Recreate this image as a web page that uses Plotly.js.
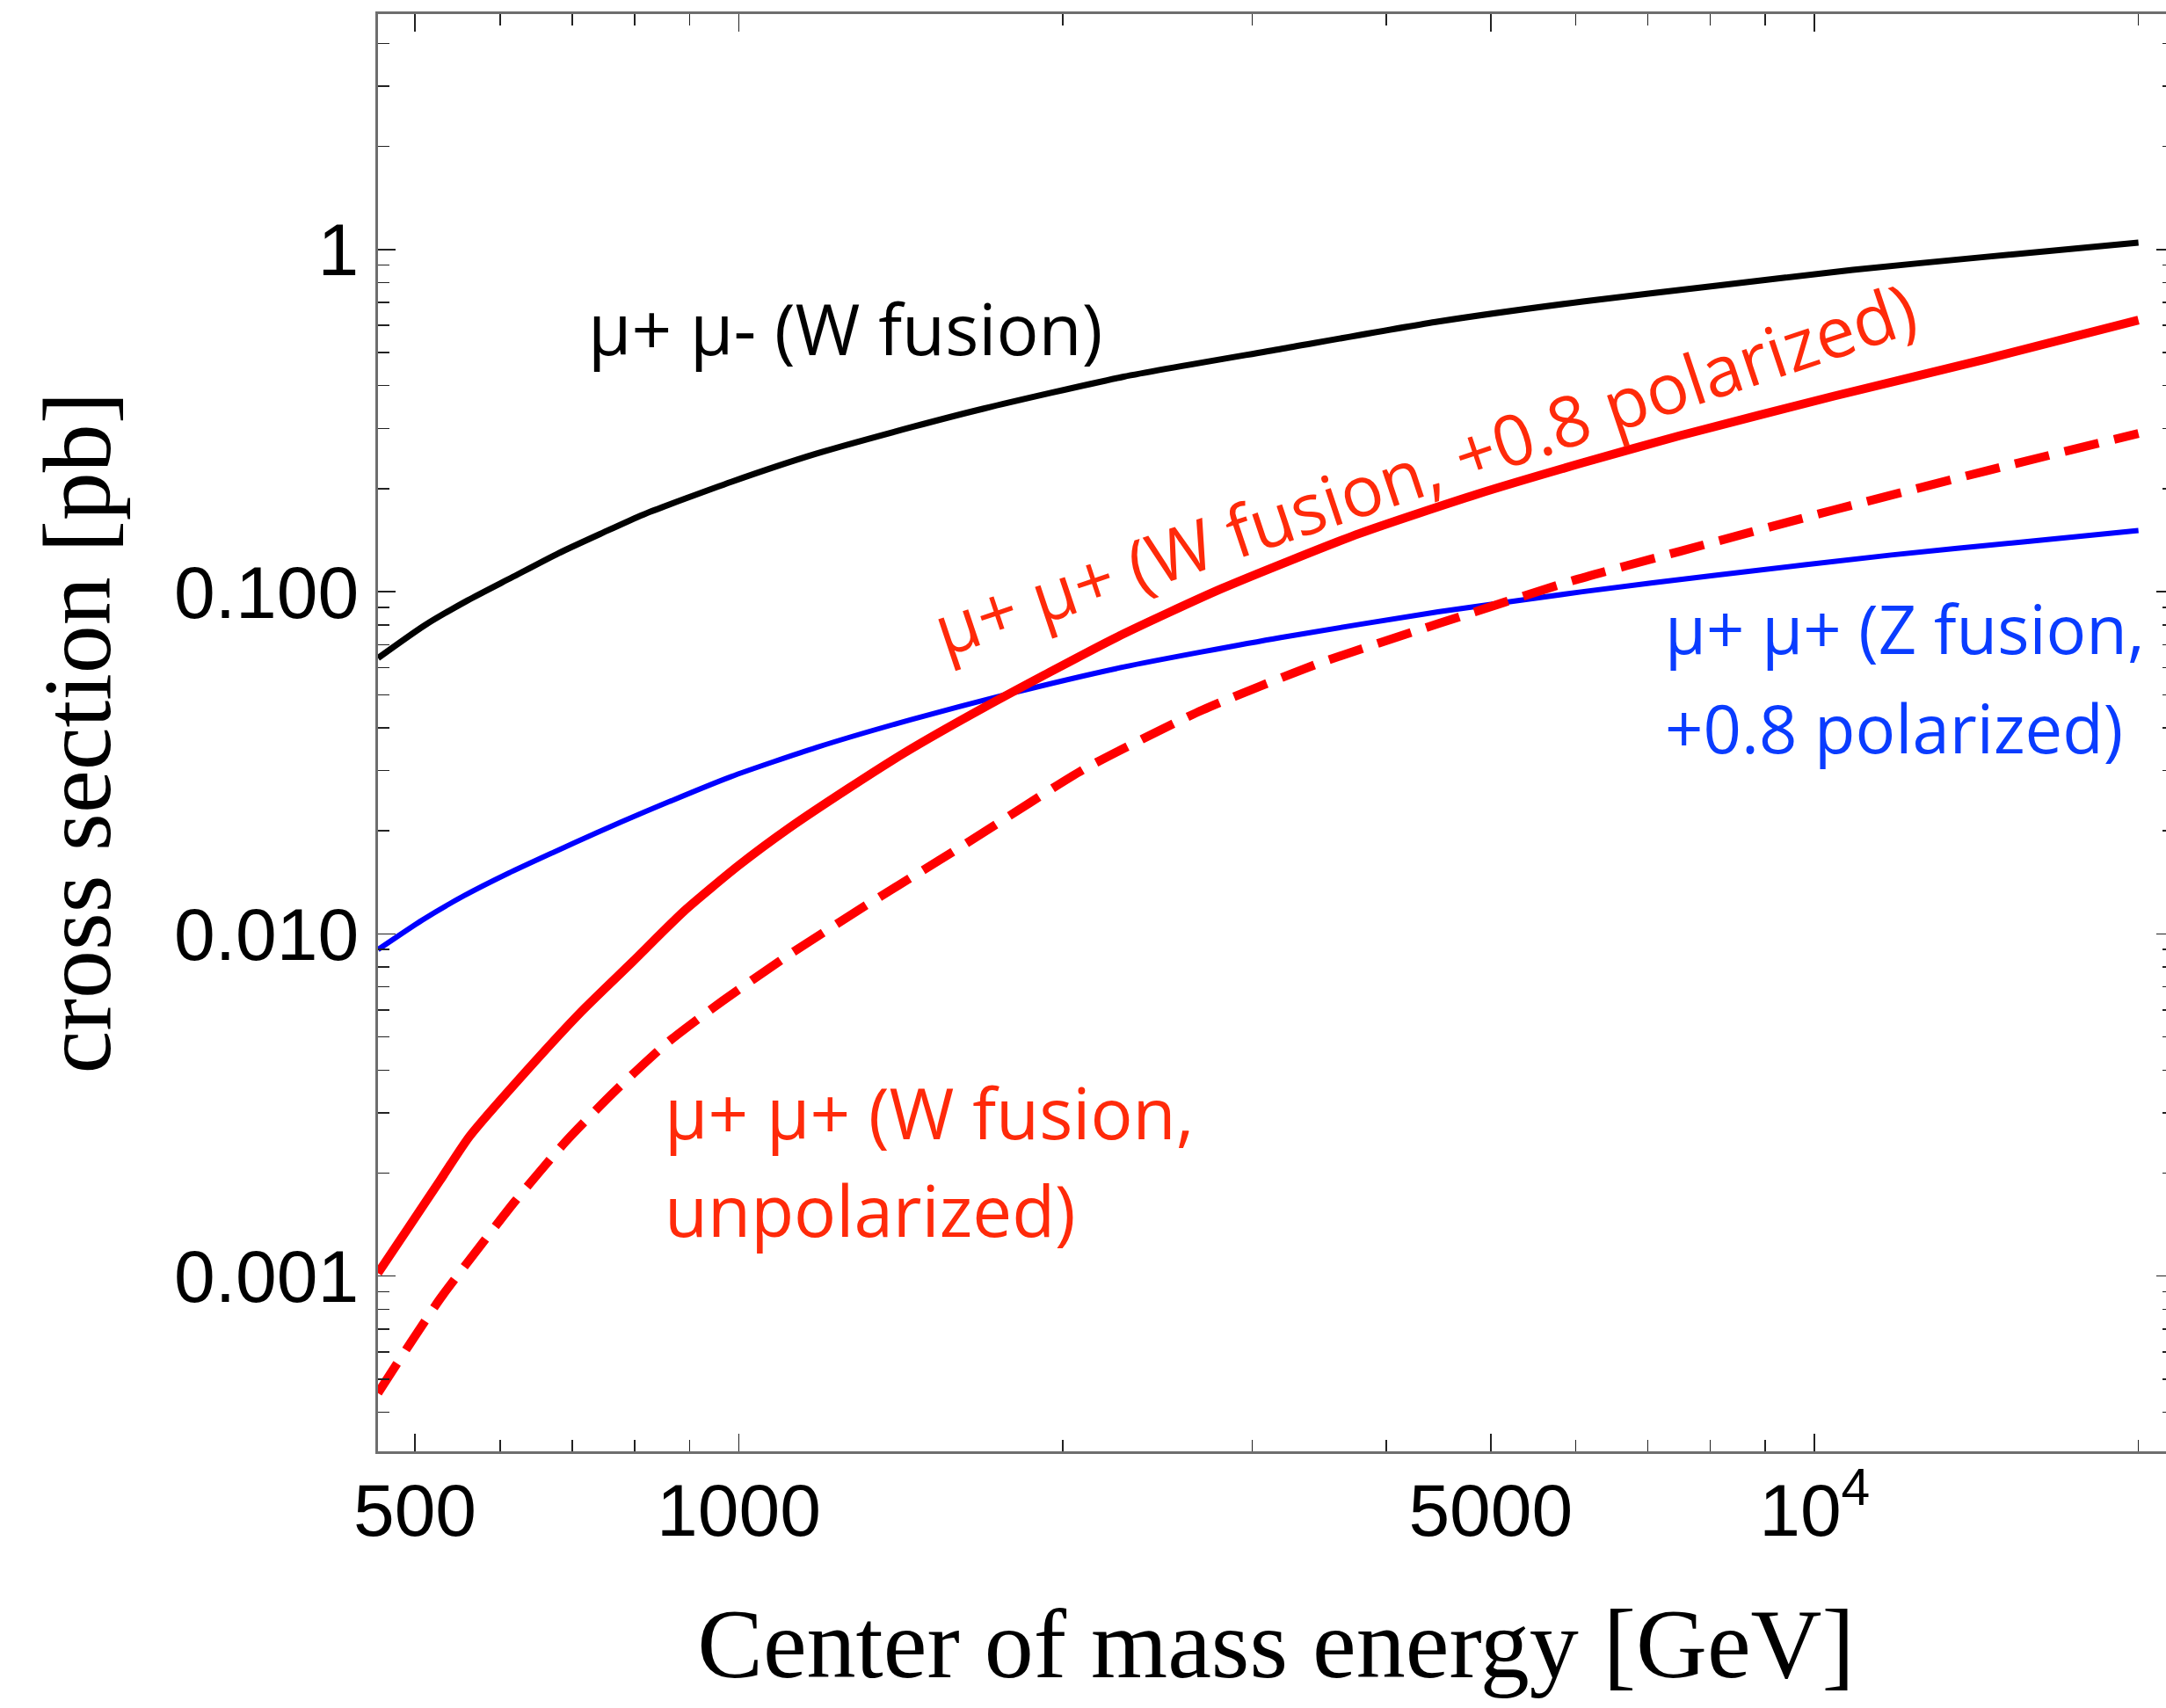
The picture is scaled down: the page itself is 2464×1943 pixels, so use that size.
<!DOCTYPE html>
<html>
<head>
<meta charset="utf-8">
<script src="https://cdn.plot.ly/plotly-3.0.1.min.js"></script>
<style>
html,body{margin:0;padding:0;overflow:hidden;background:#fff;}
#chart{width:2480px;height:1943px;}
</style>
</head>
<body>
<div id="chart"></div>
<script>
// Data (E in GeV, cross section in pb)
const energyWW_mumu = [462, 510, 560, 615, 680, 745, 815, 985, 1180, 1450, 1690, 2280, 3190, 4470, 6090, 8140, 10850, 14450, 20000];
const sigmaWW_mumu  = [0.0640, 0.0796, 0.0944, 0.110, 0.1296, 0.148, 0.168, 0.2096, 0.253, 0.303, 0.343, 0.425, 0.512, 0.616, 0.705, 0.785, 0.872, 0.952, 1.047];

const energyZZ_pol = [462, 508, 555, 611, 673, 738, 817, 983, 1182, 1446, 1774, 2281, 3190, 4467, 6085, 8140, 11780, 15700, 20000];
const sigmaZZ_pol  = [0.00900, 0.01098, 0.01291, 0.01505, 0.01733, 0.01977, 0.0227, 0.0288, 0.0351, 0.0423, 0.0501, 0.0603, 0.0735, 0.0873, 0.1000, 0.112, 0.128, 0.140, 0.151];

const energyWW_pol = [462, 493, 528, 562, 635, 714, 797, 889, 1000, 1114, 1264, 1423, 1693, 2243, 2813, 3776, 4861, 6085, 7500, 10410, 14450, 20000];
const sigmaWW_pol  = [0.00102, 0.001384, 0.00191, 0.00256, 0.00398, 0.00593, 0.0083, 0.01164, 0.01586, 0.0204, 0.0266, 0.0337, 0.0460, 0.0735, 0.1022, 0.148, 0.193, 0.238, 0.286, 0.3726, 0.4786, 0.622];

const energyWW_unpol = [462, 493, 528, 565, 619, 691, 764, 859, 966, 1105, 1297, 1535, 1650, 2094, 2697, 3468, 4467, 5957, 7500, 10410, 14450, 20000];
const sigmaWW_unpol  = [0.000455, 0.000624, 0.000861, 0.00114, 0.00165, 0.00248, 0.00343, 0.00482, 0.00637, 0.00855, 0.01183, 0.0164, 0.0189, 0.0303, 0.0451, 0.0619, 0.0806, 0.1077, 0.1313, 0.1732, 0.2256, 0.290];

// Tick labels
const xTickVals = [500, 1000, 5000, 10000];
const xTickText = ['500', '1000', '5000', '10<sup>4</sup>'];
const xMinorVals = [600, 700, 800, 900, 2000, 3000, 4000, 6000, 7000, 8000, 9000, 20000];
const yTickVals = [0.001, 0.01, 0.1, 1];
const yTickText = ['0.001', '0.010', '0.100', '1'];
const yMinorVals = [0.0004, 0.0005, 0.0006, 0.0007, 0.0008, 0.0009,
  0.002, 0.003, 0.004, 0.005, 0.006, 0.007, 0.008, 0.009,
  0.02, 0.03, 0.04, 0.05, 0.06, 0.07, 0.08, 0.09,
  0.2, 0.3, 0.4, 0.5, 0.6, 0.7, 0.8, 0.9, 2, 3, 4];

// Curve labels
const labelWWmumu = 'μ+ μ- (W fusion)';
const labelWWpol = 'μ+ μ+ (W fusion, +0.8 polarized)';
const labelWWunpol = ['μ+ μ+ (W fusion,', 'unpolarized)'];
const labelZZpol = ['μ+ μ+ (Z fusion,', '+0.8 polarized)'];

const traces = [
  {x: energyWW_mumu, y: sigmaWW_mumu, type: 'scatter', mode: 'lines', name: labelWWmumu,
   line: {color: '#000000', width: 7, shape: 'spline', smoothing: 0.6}},
  {x: energyZZ_pol, y: sigmaZZ_pol, type: 'scatter', mode: 'lines', name: labelZZpol.join(' '),
   line: {color: '#0000ff', width: 6, shape: 'spline', smoothing: 0.6}},
  {x: energyWW_unpol, y: sigmaWW_unpol, type: 'scatter', mode: 'lines', name: labelWWunpol.join(' '),
   line: {color: '#ff0000', width: 10, dash: '40px,18px', shape: 'spline', smoothing: 0.6}},
  {x: energyWW_pol, y: sigmaWW_pol, type: 'scatter', mode: 'lines', name: labelWWpol,
   line: {color: '#ff0000', width: 10, shape: 'spline', smoothing: 0.6}}
];

const labelFont = 'Open Sans, Noto Sans, sans-serif';
const red = '#ff2a0a', blue = '#0a3cff';

const axisCommon = {
  type: 'log',
  showgrid: false,
  zeroline: false,
  showline: true,
  linecolor: '#6e6e6e',
  linewidth: 3,
  mirror: 'ticks',
  ticks: 'inside',
  ticklen: 20,
  tickwidth: 1.5,
  tickcolor: '#222222',
  tickmode: 'array',
  tickfont: {family: 'Liberation Sans, Arial, sans-serif', size: 84, color: '#000'}
};

const layout = {
  width: 2480,
  height: 1943,
  margin: {l: 430, r: 7, t: 16, b: 292},
  paper_bgcolor: '#ffffff',
  plot_bgcolor: '#ffffff',
  showlegend: false,
  xaxis: Object.assign({}, axisCommon, {
    range: [Math.log10(462), 4.334],
    tickvals: xTickVals,
    ticktext: xTickText,
    ticklabelstandoff: -8,
    minor: {tickmode: 'array', tickvals: xMinorVals, ticks: 'inside', ticklen: 13, tickwidth: 1.5, tickcolor: '#222222'},
    title: {text: 'Center of mass energy [GeV]', standoff: 66,
            font: {family: 'Liberation Serif, Times New Roman, serif', size: 112, color: '#000'}}
  }),
  yaxis: Object.assign({}, axisCommon, {
    range: [-3.512, 0.688],
    tickvals: yTickVals,
    ticktext: yTickText,
    ticklabelstandoff: 2,
    minor: {tickmode: 'array', tickvals: yMinorVals, ticks: 'inside', ticklen: 13, tickwidth: 1.5, tickcolor: '#222222'},
    title: {text: 'cross section [pb]', standoff: 36,
            font: {family: 'Liberation Serif, Times New Roman, serif', size: 110, color: '#000'}}
  }),
  annotations: [
    {text: labelWWmumu, xref: 'paper', yref: 'paper', x: 0.2604, y: 0.7817, xanchor: 'center', yanchor: 'middle',
     showarrow: false, font: {family: labelFont, size: 80, color: '#000000'}},
    {text: labelWWpol, xref: 'paper', yref: 'paper', x: 0.5825, y: 0.685, xanchor: 'center', yanchor: 'middle',
     textangle: -18.5, showarrow: false, font: {family: labelFont, size: 80, color: red}},
    {text: labelWWunpol[0], xref: 'paper', yref: 'paper', x: 0.1586, y: 0.2361, xanchor: 'left', yanchor: 'middle',
     showarrow: false, font: {family: labelFont, size: 80, color: red}},
    {text: labelWWunpol[1], xref: 'paper', yref: 'paper', x: 0.1586, y: 0.1688, xanchor: 'left', yanchor: 'middle',
     showarrow: false, font: {family: labelFont, size: 80, color: red}},
    {text: labelZZpol[0], xref: 'paper', yref: 'paper', x: 0.7155, y: 0.5725, xanchor: 'left', yanchor: 'middle',
     showarrow: false, font: {family: labelFont, size: 76, color: blue}},
    {text: labelZZpol[1], xref: 'paper', yref: 'paper', x: 0.7155, y: 0.5034, xanchor: 'left', yanchor: 'middle',
     showarrow: false, font: {family: labelFont, size: 76, color: blue}}
  ]
};

Plotly.newPlot('chart', traces, layout, {staticPlot: true, displayModeBar: false});
</script>
</body>
</html>
